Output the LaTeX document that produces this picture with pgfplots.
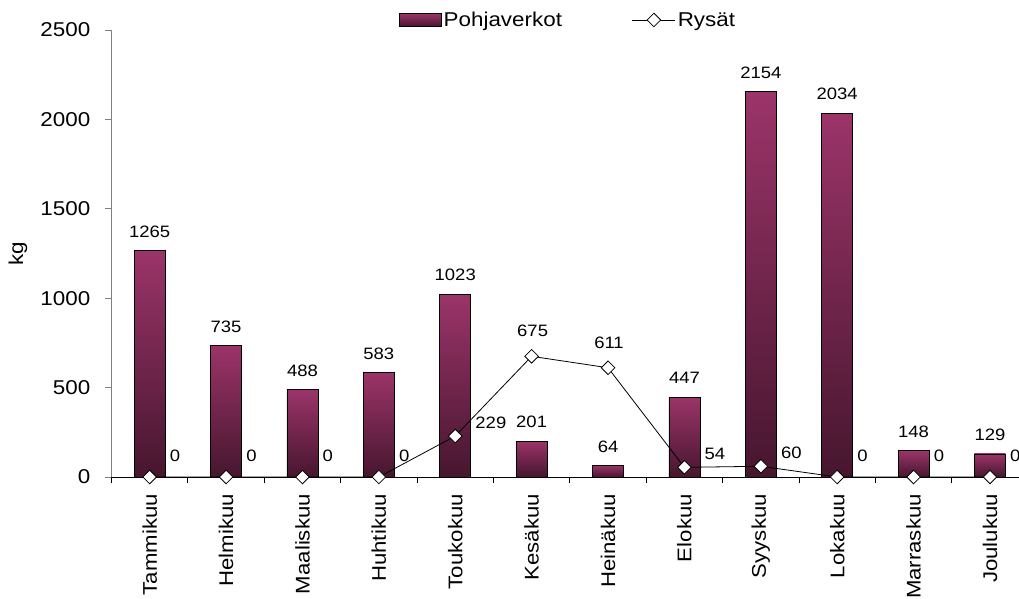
\documentclass[border=0pt]{standalone}
\usepackage{fontspec}
\setmainfont{Liberation Sans}[FakeStretch=1.12]
\usepackage{pgfplots}
\pgfplotsset{compat=1.18}

\definecolor{barTop}{RGB}{155,52,105}
\definecolor{barBot}{RGB}{70,22,46}
\definecolor{axisGray}{RGB}{128,128,128}

\newcommand{\lblfont}{\fontsize{20bp}{23bp}\selectfont}
\newcommand{\catfont}{\fontsize{19.8bp}{23bp}\selectfont}
\newcommand{\valfont}{\fontsize{16.5bp}{19bp}\selectfont}

\pgfplotsset{
  barlegend/.style={legend image code/.code={\draw[##1] (0bp,-6.5bp) rectangle (42bp,6.5bp);}},
  linelegend/.style={legend image code/.code={\draw[mark repeat=2, mark phase=2, ##1] plot coordinates {(0bp,0bp) (21.5bp,0bp) (43bp,0bp)};}},
  % one bar of the Pohjaverkot series, shaded on its own
  pbar/.style={ybar, bar width=31bp, draw=black, line width=0.8bp,
    top color=barTop, bottom color=barBot,
    nodes near coords,
    nodes near coords style={font=\valfont, anchor=center, yshift=19bp, text=black}},
}

\begin{document}
\begin{tikzpicture}
\begin{axis}[
  scale only axis,
  width=907.5bp, height=447bp,
  xmin=-0.5, xmax=11.38,
  ymin=0, ymax=2500,
  axis x line*=bottom,
  axis y line*=left,
  x axis line style={black, line width=0.8bp},
  y axis line style={axisGray, line width=1.2bp},
  /pgf/number format/assume math mode=true,
  /pgf/number format/1000 sep={},
  tick align=outside,
  major tick length=6bp,
  ytick={0,500,...,2500},
  ytick style={axisGray, line width=0.8bp},
  yticklabel style={font=\lblfont, inner sep=0pt, xshift=-15bp},
  xtick={-0.5,0.5,...,10.5},
  xticklabels={},
  xtick style={black, line width=0.8bp},
  extra x ticks={0,1,2,3,4,5,6,7,8,9,10,11},
  extra x tick labels={Tammikuu,Helmikuu,Maaliskuu,Huhtikuu,Toukokuu,Kesäkuu,Heinäkuu,Elokuu,Syyskuu,Lokakuu,Marraskuu,Joulukuu},
  extra x tick style={
    tick style={draw=none},
    tick label style={rotate=90, anchor=east, font=\catfont, inner sep=0pt, xshift=-11bp},
  },
  ylabel={kg},
  every axis y label/.style={at={(axis description cs:-0.103,0.5)}, rotate=90, anchor=center, font=\lblfont},
  legend columns=2,
  legend style={draw=none, fill=none, at={(0.503,1.0224)}, anchor=center,
    font=\lblfont,
    /tikz/every even column/.append style={column sep=68bp},
    nodes={inner sep=2bp}},
  legend cell align=left,
  clip=false,
]

% Pohjaverkot, monthly catch (kg)
\addplot[pbar, barlegend] coordinates {(0,1265)};
\addlegendentry{Pohjaverkot}
\addplot[pbar, forget plot] coordinates {(1,735)};
\addplot[pbar, forget plot] coordinates {(2,488)};
\addplot[pbar, forget plot] coordinates {(3,583)};
\addplot[pbar, forget plot] coordinates {(4,1023)};
\addplot[pbar, forget plot] coordinates {(5,201)};
\addplot[pbar, forget plot] coordinates {(6,64)};
\addplot[pbar, forget plot] coordinates {(7,447)};
\addplot[pbar, forget plot] coordinates {(8,2154)};
\addplot[pbar, forget plot] coordinates {(9,2034)};
\addplot[pbar, forget plot] coordinates {(10,148)};
\addplot[pbar, forget plot] coordinates {(11,129)};

% Rysät (line)
\addplot[sharp plot, black, line width=0.8bp,
  mark=square*, mark size=4.8bp,
  mark options={rotate=45, fill=white, draw=black, line width=0.8bp},
  linelegend]
  coordinates {(0,0) (1,0) (2,0) (3,0) (4,229) (5,675) (6,611) (7,54) (8,60) (9,0) (10,0) (11,0)};
\addlegendentry{Rysät}

% value labels of the Rysät series
\addplot[forget plot, draw=none, mark=none, sharp plot,
  nodes near coords,
  nodes near coords style={font=\valfont, anchor=west, inner sep=0pt, xshift=20bp, yshift=21bp}]
  coordinates {(0,0) (1,0) (2,0) (3,0) (9,0) (10,0) (11,0)};
\addplot[forget plot, draw=none, mark=none, sharp plot,
  nodes near coords,
  nodes near coords style={font=\valfont, anchor=west, inner sep=0pt, xshift=20bp, yshift=13bp}]
  coordinates {(4,229) (7,54) (8,60)};
\addplot[forget plot, draw=none, mark=none, sharp plot,
  nodes near coords,
  nodes near coords style={font=\valfont, anchor=center, inner sep=0pt, xshift=1bp, yshift=25bp}]
  coordinates {(5,675) (6,611)};

\end{axis}
\pgfresetboundingbox
\path[use as bounding box] (-111.5bp,-122bp) rectangle (907.5bp,477bp);
\end{tikzpicture}
\end{document}
